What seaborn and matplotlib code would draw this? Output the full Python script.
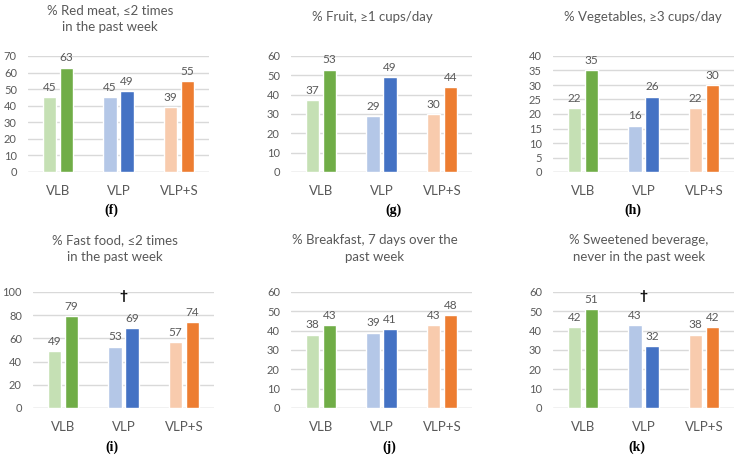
import numpy as np
import pandas as pd
import matplotlib
matplotlib.use("Agg")
import matplotlib.pyplot as plt
import seaborn as sns

# -------------------------------
# Data
# -------------------------------
groups = ["VLB", "VLP", "VLP+S"]
periods = ["Baseline", "Follow-up"]

titles = [
    "% Red meat, ≤2 times\nin the past week",
    "% Fruit, ≥1 cups/day",
    "% Vegetables, ≥3 cups/day",
    "% Fast food, ≤2 times\nin the past week",
    "% Breakfast, 7 days over the\npast week",
    "% Sweetened beverage,\nnever in the past week",
]
panel_tags = ["(f)", "(g)", "(h)", "(i)", "(j)", "(k)"]

red_meat_base = [45, 45, 39]
red_meat_follow = [63, 49, 55]
fruit_base = [37, 29, 30]
fruit_follow = [53, 49, 44]
veg_base = [22, 16, 22]
veg_follow = [35, 26, 30]
fastfood_base = [49, 53, 57]
fastfood_follow = [79, 69, 74]
breakfast_base = [38, 39, 43]
breakfast_follow = [43, 41, 48]
beverage_base = [42, 43, 38]
beverage_follow = [51, 32, 42]

base_vals = [red_meat_base, fruit_base, veg_base, fastfood_base, breakfast_base, beverage_base]
follow_vals = [red_meat_follow, fruit_follow, veg_follow, fastfood_follow, breakfast_follow, beverage_follow]
y_max = [70, 60, 40, 100, 60, 60]
y_step = [10, 10, 5, 20, 10, 10]
dagger = [False, False, False, True, False, True]  # marker above VLP

light_colors = ["#C5E0B4", "#B4C7E7", "#F8CBAD"]
dark_colors = ["#70AD47", "#4472C4", "#ED7D31"]
text_gray = "#595959"
grid_gray = "#D9D9D9"

# -------------------------------
# Layout (pixel boxes)
# -------------------------------
W, H = 739, 463
ax_x0 = [28, 291, 553, 33, 291, 553]
ax_w = 181
row_y = [(56, 172), (292, 408)]
title_cx = [110, 372, 643, 115, 375, 639]
title_top = [4, 11, 11, 234, 234, 234]
tag_cx = [111, 393, 633, 112, 389, 637]
tag_y = [210, 210, 210, 447, 447, 447]

sns.set_theme(style="white")
plt.rcParams["font.family"] = ["Lato", "DejaVu Sans"]

fig = plt.figure(figsize=(W / 100, H / 100), dpi=100)

for i in range(6):
    r = i // 3
    y0, y1 = row_y[r]
    ax = fig.add_axes([ax_x0[i] / W, 1 - y1 / H, ax_w / W, (y1 - y0) / H])

    df = pd.DataFrame({
        "group": groups * 2,
        "period": [periods[0]] * 3 + [periods[1]] * 3,
        "value": base_vals[i] + follow_vals[i],
    })
    sns.barplot(data=df, x="group", y="value", hue="period", ax=ax,
                width=0.56, gap=0.2, legend=False, zorder=3)

    for bar, col in zip(ax.containers[0], light_colors):
        bar.set_facecolor(col)
    for bar, col in zip(ax.containers[1], dark_colors):
        bar.set_facecolor(col)
    for cont in ax.containers:
        ax.bar_label(cont, padding=3, fontsize=8.5, color=text_gray)

    ax.set_ylim(0, y_max[i])
    ax.set_yticks(np.arange(0, y_max[i] + 1, y_step[i]))
    ax.set_xlim(-0.5, 2.5)
    ax.yaxis.grid(True, color=grid_gray, linewidth=1, zorder=0)
    ax.set_axisbelow(True)
    for s in ax.spines.values():
        s.set_visible(False)
    ax.axhline(0, color=grid_gray, linewidth=1, zorder=1)
    ax.set_xlabel("")
    ax.set_ylabel("")
    ax.tick_params(axis="both", length=0, colors=text_gray)
    ax.tick_params(axis="x", pad=9.5, labelsize=9.5)
    ax.tick_params(axis="y", pad=8, labelsize=8)

    if dagger[i]:
        ax.text(1, y_max[i] * 0.965, "†", ha="center", va="center",
                fontsize=10, color="black", fontweight="bold")

    fig.text(title_cx[i] / W, 1 - title_top[i] / H, titles[i], ha="center", va="top",
             fontsize=9.5, color=text_gray, linespacing=1.5)
    fig.text(tag_cx[i] / W, 1 - tag_y[i] / H, panel_tags[i], ha="center", va="center",
             fontsize=10, color="black", fontweight="bold",
             family=["Liberation Serif", "DejaVu Serif"])

fig.savefig("out.png", dpi=100)
